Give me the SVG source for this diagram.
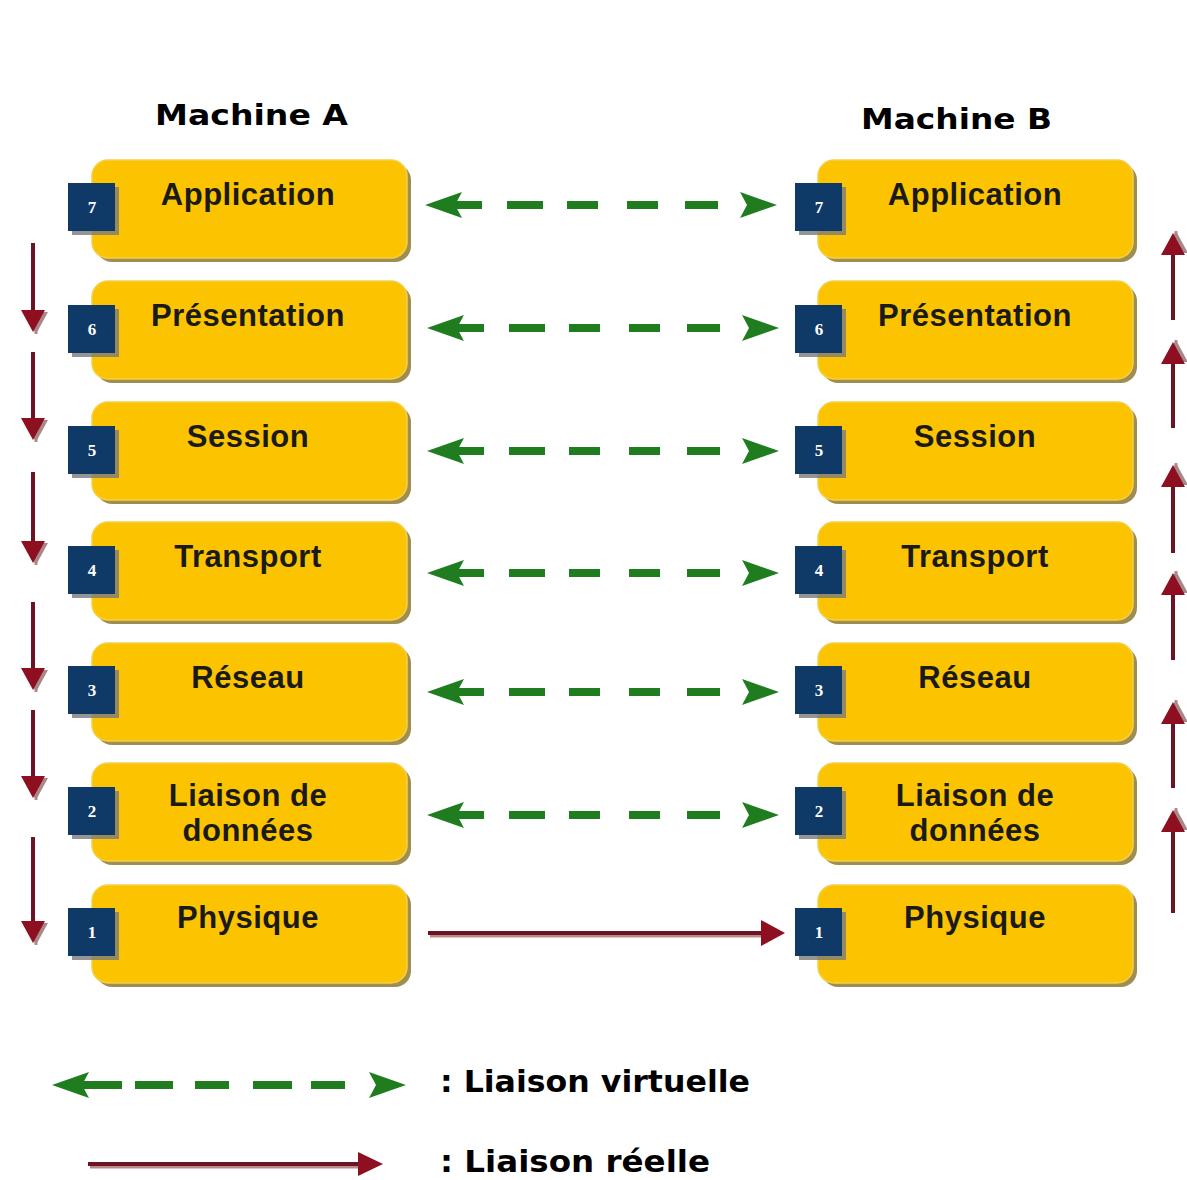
<svg xmlns="http://www.w3.org/2000/svg" xmlns:xlink="http://www.w3.org/1999/xlink" width="1187" height="1180" viewBox="0 0 1187 1180">
<style>
.box{fill:#fcc400;stroke:#f3cf4a;stroke-width:1.5}
.boxsh{fill:#8f7a33;opacity:0.85}
.sq{fill:#0f3a68}
.sqsh{fill:#7a7a7a;opacity:0.8}
.num{font-family:"Liberation Serif",serif;font-weight:bold;font-size:17px;fill:#ffffff;text-anchor:middle}
.lbl{font-family:"Liberation Sans",Arial,sans-serif;font-weight:bold;font-size:31px;letter-spacing:0.5px;fill:#1a1a1a;text-anchor:middle}
.title{font-family:"DejaVu Sans",sans-serif;font-weight:bold;font-size:29px;fill:#000000}
.leg{font-family:"DejaVu Sans",sans-serif;font-weight:bold;font-size:31px;fill:#000000}
.g{fill:#1f7d1f}
.gd{stroke:#1f7d1f;stroke-width:8;fill:none}
.rl{stroke:#6b1424;stroke-width:4;fill:none}
.rls{stroke:#b88a8a;stroke-width:3;fill:none}
.rh{fill:#8e1020}
.rhs{fill:#a88888}
</style>
<defs>
<g id="varrow">
<path class="g" d="M0,0 L37,-13 L30,0 L37,13 Z"/>
<path class="g" d="M352,0 L315,-13 L322,0 L315,13 Z"/>
<line class="gd" x1="30" y1="0" x2="57" y2="0"/>
<line class="gd" x1="82" y1="0" x2="118" y2="0"/>
<line class="gd" x1="142" y1="0" x2="173" y2="0"/>
<line class="gd" x1="202" y1="0" x2="233" y2="0"/>
<line class="gd" x1="260" y1="0" x2="293" y2="0"/>
</g>
<g id="down">
<line class="rls" x1="3" y1="2" x2="3" y2="-20"/>
<path class="rhs" d="M-10,-20 L15,-20 L3,2 Z"/>
<path class="rh" d="M-12,-22 L12,-22 L0,0 Z"/>
</g>
</defs>
<rect x="0" y="0" width="1187" height="1180" fill="#ffffff"/>

<text class="title" x="155" y="125" textLength="193" lengthAdjust="spacingAndGlyphs">Machine A</text>
<text class="title" x="861" y="129" textLength="191" lengthAdjust="spacingAndGlyphs">Machine B</text>

<g id="nodeA7"><rect class="boxsh" x="96" y="164" width="315" height="98" rx="16"/><rect class="box" x="92" y="160" width="315" height="98" rx="16"/><rect class="sqsh" x="72" y="187" width="47" height="48"/><rect class="sq" x="68" y="183" width="47" height="48"/><text class="num" x="92" y="213">7</text><text class="lbl" x="248" y="205">Application</text></g>
<g id="nodeA6"><rect class="boxsh" x="96" y="285" width="315" height="98" rx="16"/><rect class="box" x="92" y="281" width="315" height="98" rx="16"/><rect class="sqsh" x="72" y="309" width="47" height="48"/><rect class="sq" x="68" y="305" width="47" height="48"/><text class="num" x="92" y="335">6</text><text class="lbl" x="248" y="326">Présentation</text></g>
<g id="nodeA5"><rect class="boxsh" x="96" y="406" width="315" height="98" rx="16"/><rect class="box" x="92" y="402" width="315" height="98" rx="16"/><rect class="sqsh" x="72" y="430" width="47" height="48"/><rect class="sq" x="68" y="426" width="47" height="48"/><text class="num" x="92" y="456">5</text><text class="lbl" x="248" y="447">Session</text></g>
<g id="nodeA4"><rect class="boxsh" x="96" y="526" width="315" height="98" rx="16"/><rect class="box" x="92" y="522" width="315" height="98" rx="16"/><rect class="sqsh" x="72" y="550" width="47" height="48"/><rect class="sq" x="68" y="546" width="47" height="48"/><text class="num" x="92" y="576">4</text><text class="lbl" x="248" y="567">Transport</text></g>
<g id="nodeA3"><rect class="boxsh" x="96" y="647" width="315" height="98" rx="16"/><rect class="box" x="92" y="643" width="315" height="98" rx="16"/><rect class="sqsh" x="72" y="670" width="47" height="48"/><rect class="sq" x="68" y="666" width="47" height="48"/><text class="num" x="92" y="696">3</text><text class="lbl" x="248" y="688">Réseau</text></g>
<g id="nodeA2"><rect class="boxsh" x="96" y="767" width="315" height="98" rx="16"/><rect class="box" x="92" y="763" width="315" height="98" rx="16"/><rect class="sqsh" x="72" y="791" width="47" height="48"/><rect class="sq" x="68" y="787" width="47" height="48"/><text class="num" x="92" y="817">2</text><text class="lbl" x="248" y="806">Liaison de</text><text class="lbl" x="248" y="841">données</text></g>
<g id="nodeA1"><rect class="boxsh" x="96" y="889" width="315" height="98" rx="16"/><rect class="box" x="92" y="885" width="315" height="98" rx="16"/><rect class="sqsh" x="72" y="912" width="47" height="48"/><rect class="sq" x="68" y="908" width="47" height="48"/><text class="num" x="92" y="938">1</text><text class="lbl" x="248" y="928">Physique</text></g>

<g id="nodeB7"><rect class="boxsh" x="822" y="164" width="315" height="98" rx="16"/><rect class="box" x="818" y="160" width="315" height="98" rx="16"/><rect class="sqsh" x="799" y="187" width="47" height="48"/><rect class="sq" x="795" y="183" width="47" height="48"/><text class="num" x="819" y="213">7</text><text class="lbl" x="975" y="205">Application</text></g>
<g id="nodeB6"><rect class="boxsh" x="822" y="285" width="315" height="98" rx="16"/><rect class="box" x="818" y="281" width="315" height="98" rx="16"/><rect class="sqsh" x="799" y="309" width="47" height="48"/><rect class="sq" x="795" y="305" width="47" height="48"/><text class="num" x="819" y="335">6</text><text class="lbl" x="975" y="326">Présentation</text></g>
<g id="nodeB5"><rect class="boxsh" x="822" y="406" width="315" height="98" rx="16"/><rect class="box" x="818" y="402" width="315" height="98" rx="16"/><rect class="sqsh" x="799" y="430" width="47" height="48"/><rect class="sq" x="795" y="426" width="47" height="48"/><text class="num" x="819" y="456">5</text><text class="lbl" x="975" y="447">Session</text></g>
<g id="nodeB4"><rect class="boxsh" x="822" y="526" width="315" height="98" rx="16"/><rect class="box" x="818" y="522" width="315" height="98" rx="16"/><rect class="sqsh" x="799" y="550" width="47" height="48"/><rect class="sq" x="795" y="546" width="47" height="48"/><text class="num" x="819" y="576">4</text><text class="lbl" x="975" y="567">Transport</text></g>
<g id="nodeB3"><rect class="boxsh" x="822" y="647" width="315" height="98" rx="16"/><rect class="box" x="818" y="643" width="315" height="98" rx="16"/><rect class="sqsh" x="799" y="670" width="47" height="48"/><rect class="sq" x="795" y="666" width="47" height="48"/><text class="num" x="819" y="696">3</text><text class="lbl" x="975" y="688">Réseau</text></g>
<g id="nodeB2"><rect class="boxsh" x="822" y="767" width="315" height="98" rx="16"/><rect class="box" x="818" y="763" width="315" height="98" rx="16"/><rect class="sqsh" x="799" y="791" width="47" height="48"/><rect class="sq" x="795" y="787" width="47" height="48"/><text class="num" x="819" y="817">2</text><text class="lbl" x="975" y="806">Liaison de</text><text class="lbl" x="975" y="841">données</text></g>
<g id="nodeB1"><rect class="boxsh" x="822" y="889" width="315" height="98" rx="16"/><rect class="box" x="818" y="885" width="315" height="98" rx="16"/><rect class="sqsh" x="799" y="912" width="47" height="48"/><rect class="sq" x="795" y="908" width="47" height="48"/><text class="num" x="819" y="938">1</text><text class="lbl" x="975" y="928">Physique</text></g>

<g id="connectors">
<use xlink:href="#varrow" href="#varrow" transform="translate(425,205)"/>
<use xlink:href="#varrow" href="#varrow" transform="translate(427,328)"/>
<use xlink:href="#varrow" href="#varrow" transform="translate(427,451)"/>
<use xlink:href="#varrow" href="#varrow" transform="translate(427,573)"/>
<use xlink:href="#varrow" href="#varrow" transform="translate(427,692)"/>
<use xlink:href="#varrow" href="#varrow" transform="translate(427,815)"/>

<g id="physical">
<line class="rls" x1="430" y1="936" x2="765" y2="936"/>
<line class="rl" x1="428" y1="933" x2="763" y2="933"/>
<path class="rh" d="M761,920 L785,933 L761,946 Z"/>
</g>

<g id="downA">
<line class="rl" x1="33" y1="243" x2="33" y2="312"/><use xlink:href="#down" href="#down" transform="translate(33,332)"/>
<line class="rl" x1="33" y1="352" x2="33" y2="420"/><use xlink:href="#down" href="#down" transform="translate(33,440)"/>
<line class="rl" x1="33" y1="472" x2="33" y2="543"/><use xlink:href="#down" href="#down" transform="translate(33,563)"/>
<line class="rl" x1="33" y1="602" x2="33" y2="670"/><use xlink:href="#down" href="#down" transform="translate(33,690)"/>
<line class="rl" x1="33" y1="710" x2="33" y2="778"/><use xlink:href="#down" href="#down" transform="translate(33,798)"/>
<line class="rl" x1="33" y1="837" x2="33" y2="923"/><use xlink:href="#down" href="#down" transform="translate(33,943)"/>
</g>

<g id="upB">
<line class="rl" x1="1173" y1="320" x2="1173" y2="253"/><use xlink:href="#down" href="#down" transform="translate(1173,233) scale(1,-1)"/>
<line class="rl" x1="1173" y1="428" x2="1173" y2="362"/><use xlink:href="#down" href="#down" transform="translate(1173,342) scale(1,-1)"/>
<line class="rl" x1="1173" y1="553" x2="1173" y2="485"/><use xlink:href="#down" href="#down" transform="translate(1173,465) scale(1,-1)"/>
<line class="rl" x1="1173" y1="660" x2="1173" y2="593"/><use xlink:href="#down" href="#down" transform="translate(1173,573) scale(1,-1)"/>
<line class="rl" x1="1173" y1="788" x2="1173" y2="722"/><use xlink:href="#down" href="#down" transform="translate(1173,702) scale(1,-1)"/>
<line class="rl" x1="1173" y1="913" x2="1173" y2="830"/><use xlink:href="#down" href="#down" transform="translate(1173,810) scale(1,-1)"/>
</g>
</g>

<g id="legend">
<g transform="translate(52,1085)">
<path class="g" d="M0,0 L37,-13 L30,0 L37,13 Z"/>
<path class="g" d="M354,0 L317,-13 L324,0 L317,13 Z"/>
<line class="gd" x1="30" y1="0" x2="70" y2="0"/>
<line class="gd" x1="83" y1="0" x2="121" y2="0"/>
<line class="gd" x1="143" y1="0" x2="177" y2="0"/>
<line class="gd" x1="201" y1="0" x2="240" y2="0"/>
<line class="gd" x1="259" y1="0" x2="293" y2="0"/>
</g>
<text class="leg" x="440" y="1092" textLength="310" lengthAdjust="spacingAndGlyphs">: Liaison virtuelle</text>
<line class="rls" x1="90" y1="1167" x2="360" y2="1167"/>
<line class="rl" x1="88" y1="1164" x2="360" y2="1164"/>
<path class="rh" d="M358,1152 L383,1164 L358,1176 Z"/>
<text class="leg" x="440" y="1172" textLength="270" lengthAdjust="spacingAndGlyphs">: Liaison réelle</text>
</g>
</svg>
